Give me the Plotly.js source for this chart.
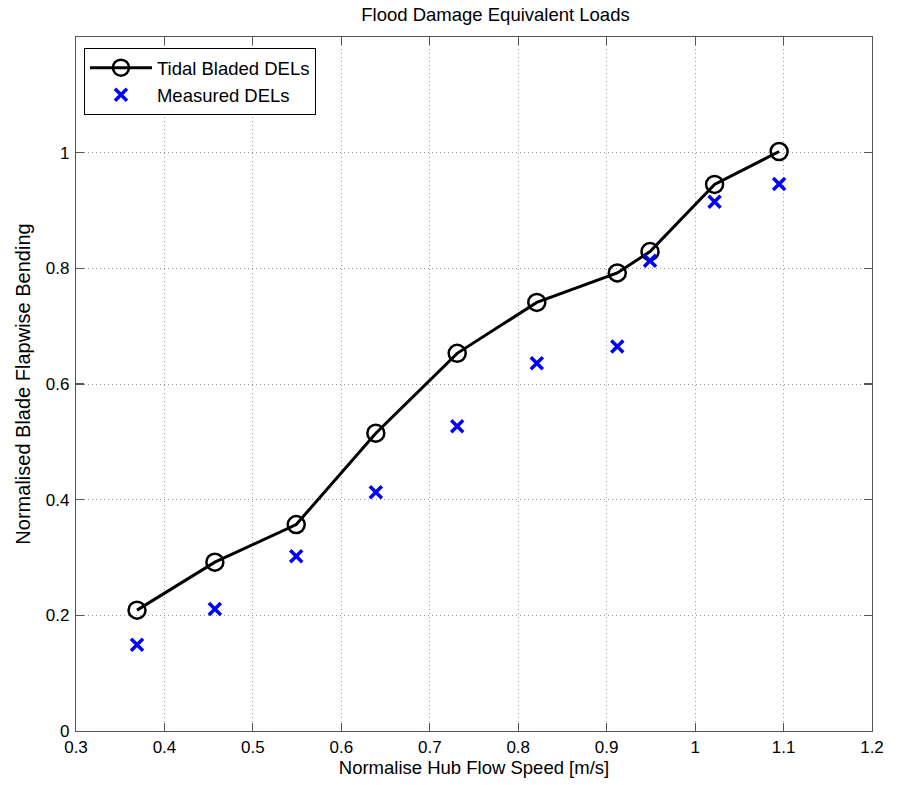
<!DOCTYPE html>
<html>
<head>
<meta charset="utf-8">
<script src="https://cdn.plot.ly/plotly-3.0.1.min.js"></script>
<style>html,body{margin:0;padding:0;background:#fff;}#chart{width:899px;height:785px;}</style>
</head>
<body>
<div id="chart"></div>
<script>
var speedBladed = [0.369, 0.457, 0.549, 0.639, 0.731, 0.821, 0.912, 0.949, 1.022, 1.095];
var delBladed   = [0.209, 0.292, 0.357, 0.515, 0.653, 0.741, 0.792, 0.829, 0.945, 1.002];
var speedMeasured = [0.369, 0.457, 0.549, 0.639, 0.731, 0.821, 0.912, 0.949, 1.022, 1.095];
var delMeasured   = [0.149, 0.211, 0.302, 0.413, 0.527, 0.636, 0.665, 0.813, 0.915, 0.946];
var xTicks = [0.3, 0.4, 0.5, 0.6, 0.7, 0.8, 0.9, 1.0, 1.1, 1.2];
var yTicks = [0, 0.2, 0.4, 0.6, 0.8, 1.0];

var fam = 'Liberation Sans, Arial, sans-serif';

var traces = [
  {x: speedBladed, y: delBladed, name: 'Tidal Bladed DELs', type: 'scatter', mode: 'lines+markers',
   line: {color: '#000', width: 3},
   marker: {symbol: 'circle-open', size: 17, color: '#000', line: {width: 2.5, color: '#000'}}},
  {x: speedMeasured, y: delMeasured, name: 'Measured DELs', type: 'scatter', mode: 'markers',
   marker: {symbol: 'x-thin-open', size: 12, color: '#0000ff', line: {width: 3.5, color: '#0000ff'}}}
];

var axisCommon = {
  showline: true, linecolor: '#555', linewidth: 1.2, mirror: 'ticks',
  ticks: 'inside', ticklen: 8, tickcolor: '#555', tickwidth: 1.2,
  showgrid: true, gridcolor: '#999', griddash: '1px,3px', gridwidth: 1,
  zeroline: false, tickfont: {family: fam, size: 17, color: '#000'}
};

var layout = {
  width: 899, height: 785,
  margin: {l: 76, r: 27, t: 37, b: 54},
  paper_bgcolor: '#fff', plot_bgcolor: '#fff',
  title: {text: 'Flood Damage Equivalent Loads', x: 0.527, xref: 'paper', y: 0.982, yanchor: 'middle',
          font: {family: fam, size: 18.5, color: '#000'}},
  xaxis: Object.assign({}, axisCommon, {
    range: [0.3, 1.2], tickvals: xTicks, ticktext: xTicks.map(String),
    title: {text: 'Normalise Hub Flow Speed [m/s]', standoff: 4, font: {family: fam, size: 18.5, color: '#000'}}
  }),
  yaxis: Object.assign({}, axisCommon, {
    range: [0, 1.2], tickvals: yTicks, ticktext: yTicks.map(String), ticklabelstandoff: 2,
    title: {text: 'Normalised Blade Flapwise Bending', standoff: 9, font: {family: fam, size: 20, color: '#000'}}
  }),
  showlegend: true,
  legend: {x: 0.01, y: 0.984, xanchor: 'left', yanchor: 'top', bgcolor: '#fff',
           bordercolor: '#000', borderwidth: 1, font: {family: fam, size: 18.5, color: '#000'},
           tracegroupgap: 0, itemwidth: 62}
};

Plotly.newPlot('chart', traces, layout, {displayModeBar: false, staticPlot: true});
</script>
</body>
</html>
